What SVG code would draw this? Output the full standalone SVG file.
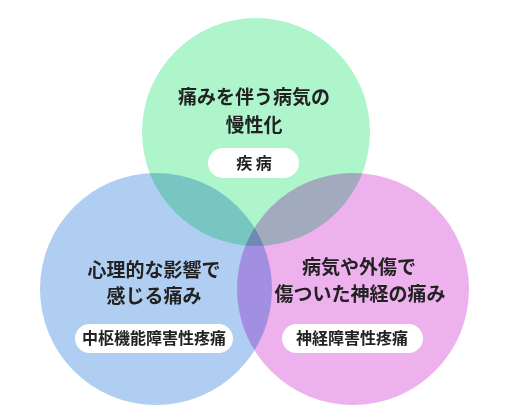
<svg xmlns="http://www.w3.org/2000/svg" width="510" height="420" viewBox="0 0 510 420">
<style>
.c{mix-blend-mode:multiply}
.t{font-family:"Noto Sans CJK JP","Noto Sans",sans-serif;font-weight:bold;fill:#222;text-anchor:middle}
.h{font-size:19px}
.p{font-size:16px}
.pill{fill:#fff}
</style>
<rect width="510" height="420" fill="#fff"/>
<g style="isolation:isolate">
<circle class="c" cx="256" cy="132" r="114" fill="#aef5cc"/>
<circle class="c" cx="156" cy="289" r="116" fill="#b0cef2"/>
<circle class="c" cx="353" cy="289" r="116" fill="#edb1ee"/>
</g>
<g id="node-disease">
<text class="t h" x="254" y="104">痛みを伴う病気の</text>
<text class="t h" x="254" y="132">慢性化</text>
<rect class="pill" x="208" y="148" width="91" height="30" rx="15"/>
<text class="t p" x="254" y="169">疾 病</text>
</g>
<g id="node-central">
<text class="t h" x="154" y="277">心理的な影響で</text>
<text class="t h" x="154" y="303">感じる痛み</text>
<rect class="pill" x="75" y="324" width="158" height="29" rx="14.5"/>
<text class="t p" x="154" y="344">中枢機能障害性疼痛</text>
</g>
<g id="node-neuro">
<text class="t h" x="359" y="274">病気や外傷で</text>
<text class="t h" x="360" y="301">傷ついた神経の痛み</text>
<rect class="pill" x="282" y="324" width="141" height="29" rx="14.5"/>
<text class="t p" x="352" y="344">神経障害性疼痛</text>
</g>
<g id="connectors"></g>
</svg>
